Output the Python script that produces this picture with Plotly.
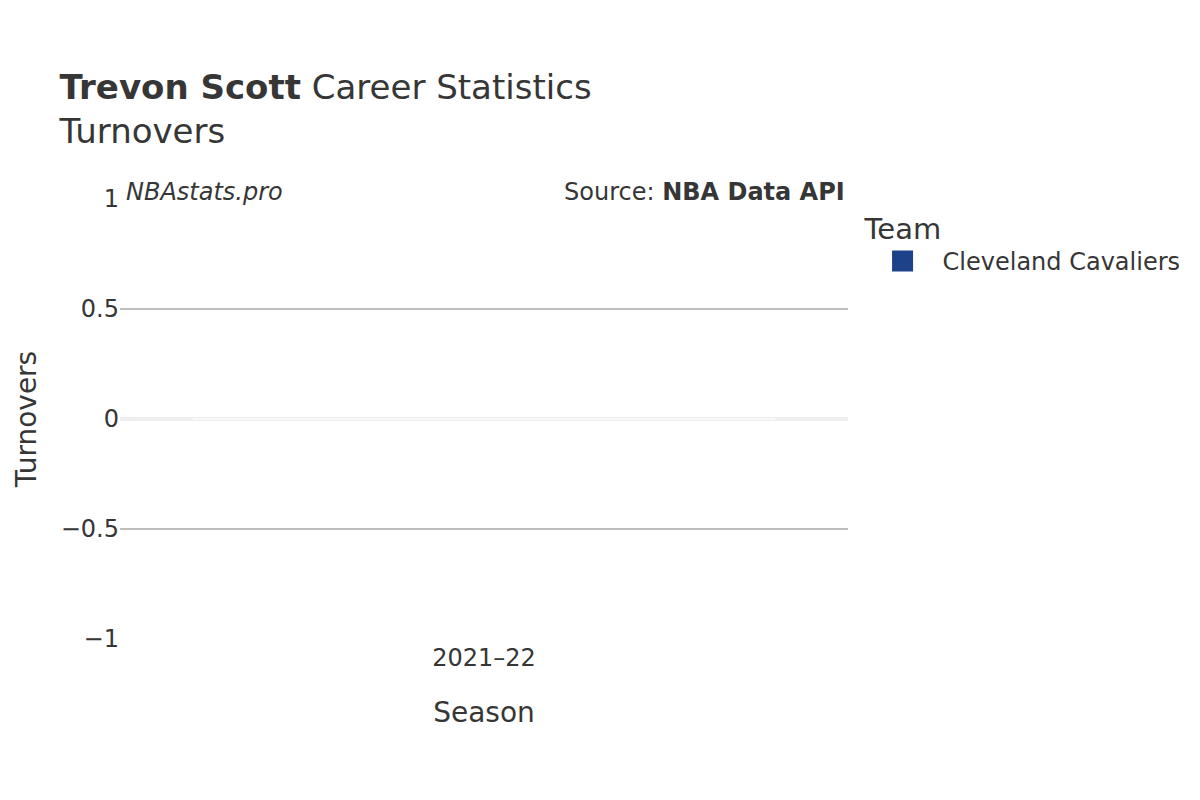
import plotly.graph_objects as go

# Data
seasons = ['2021–22']
teams = ['Cleveland Cavaliers']
turnovers = [0]
team_colors = ['#1d428a']

text_color = '#363636'

fig = go.Figure()

for team, color in zip(teams, team_colors):
    fig.add_trace(go.Bar(
        x=seasons,
        y=turnovers,
        name=team,
        legendgroup=team,
        showlegend=False,
        marker=dict(color=color, line=dict(color='rgba(255,255,255,0.6)', width=2),
                    cornerradius=4),
    ))
    # legend entry (bigger swatch than the bar's default legend icon)
    fig.add_trace(go.Scatter(
        x=[None], y=[None],
        name=team,
        legendgroup=team,
        mode='markers',
        marker=dict(symbol='square', size=22, color=color, line=dict(color=color, width=6)),
    ))

fig.update_layout(
    width=1200,
    height=800,
    title=dict(
        text='<b>Trevon Scott</b> Career Statistics<br>Turnovers',
        x=0.043, xanchor='left', y=0.886, yanchor='top',
        font=dict(size=34, color=text_color),
    ),
    font=dict(family='DejaVu Sans', size=24, color=text_color),
    paper_bgcolor='white',
    plot_bgcolor='white',
    margin=dict(l=112, r=360, t=191, b=169),
    xaxis=dict(
        title=dict(text='Season', font=dict(size=28), standoff=31),
        showgrid=False,
        tickfont=dict(size=24),
        ticklabelstandoff=2,
    ),
    yaxis=dict(
        title=dict(text='Turnovers', font=dict(size=28)),
        range=[-1, 1],
        dtick=0.5,
        gridcolor='#bdbdbd',
        gridwidth=1.5,
        zeroline=True,
        zerolinecolor='#eeeeee',
        zerolinewidth=4,
        tickfont=dict(size=24),
        automargin=False,
    ),
    legend=dict(
        title=dict(text='Team', font=dict(size=29)),
        font=dict(size=24),
        itemwidth=70,
        x=1.02, y=0.995, xanchor='left', yanchor='top',
    ),
    annotations=[
        dict(text='<i>NBAstats.pro</i>', xref='paper', yref='paper',
             x=0.005, y=1.0, xanchor='left', yanchor='middle', yshift=7,
             showarrow=False, font=dict(size=24)),
        dict(text='Source: <b>NBA Data API</b>', xref='paper', yref='paper',
             x=0.999, y=1.0, xanchor='right', yanchor='middle', yshift=7,
             showarrow=False, font=dict(size=24)),
    ],
)

fig.write_html('out.html')
